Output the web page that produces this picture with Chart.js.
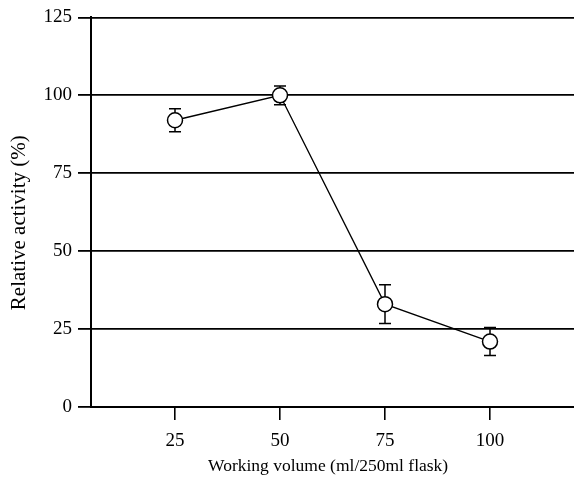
<!DOCTYPE html>
<html>
<head>
<meta charset="utf-8">
<script src="https://cdn.jsdelivr.net/npm/chart.js@4/dist/chart.umd.min.js"></script>
<style>
  html, body { margin: 0; padding: 0; background: #fff; }
  #wrap { width: 574px; height: 487px; }
</style>
</head>
<body>
<div id="wrap"><canvas id="c" width="574" height="487"></canvas></div>
<script>
// Working volume (ml per 250 ml flask) and relative activity (%)
const volumes = [25, 50, 75, 100];
const activity = [92, 100, 33, 21];
const activityErr = [3.7, 3.0, 6.2, 4.5];
const xTicks = [25, 50, 75, 100];
const yTicks = [0, 25, 50, 75, 100, 125];

const serif = "'Liberation Serif', 'DejaVu Serif', serif";

// Vertical error bars with flat caps
const errorBars = {
  id: 'errorBars',
  beforeDatasetsDraw(chart) {
    const meta = chart.getDatasetMeta(0);
    const ys = chart.scales.y;
    const ctx = chart.ctx;
    ctx.save();
    ctx.strokeStyle = '#000';
    ctx.lineWidth = 1.5;
    meta.data.forEach((pt, i) => {
      const v = activity[i], e = activityErr[i];
      const top = ys.getPixelForValue(v + e);
      const bot = ys.getPixelForValue(v - e);
      const x = pt.x;
      ctx.beginPath();
      ctx.moveTo(x, top); ctx.lineTo(x, bot);
      ctx.moveTo(x - 6, top); ctx.lineTo(x + 6, top);
      ctx.moveTo(x - 6, bot); ctx.lineTo(x + 6, bot);
      ctx.stroke();
    });
    ctx.restore();
  }
};

new Chart(document.getElementById('c'), {
  type: 'line',
  data: {
    datasets: [{
      data: volumes.map((v, i) => ({ x: v, y: activity[i] })),
      borderColor: '#000',
      borderWidth: 1.3,
      pointRadius: 7.5,
      pointHoverRadius: 7.5,
      pointBorderWidth: 1.5,
      pointBorderColor: '#000',
      pointBackgroundColor: '#fff',
      tension: 0
    }]
  },
  options: {
    responsive: false,
    animation: false,
    events: [],
    layout: { autoPadding: false, padding: { top: 17, right: 0, left: 0, bottom: 0 } },
    plugins: { legend: { display: false }, tooltip: { enabled: false } },
    scales: {
      x: {
        type: 'linear',
        min: 5,
        max: 120,
        afterBuildTicks(scale) { scale.ticks = xTicks.map(v => ({ value: v })); },
        afterFit(scale) { scale.height = 80; },
        grid: { drawOnChartArea: false, drawTicks: true, tickLength: 13, color: '#000', lineWidth: 1.6 },
        border: { display: true, color: '#000', width: 2 },
        ticks: { color: '#000', padding: 10, font: { family: serif, size: 19 }, maxRotation: 0 },
        title: {
          display: true,
          text: 'Working volume (ml/250ml flask)  ',
          color: '#000',
          font: { family: serif, size: 17.5 },
          padding: { top: 0, bottom: 10 }
        }
      },
      y: {
        min: 0,
        max: 125,
        afterBuildTicks(scale) { scale.ticks = yTicks.map(v => ({ value: v })); },
        afterFit(scale) { scale.width = 91; },
        grid: { drawTicks: true, tickLength: 13, color: '#000', lineWidth: 1.8 },
        border: { display: true, color: '#000', width: 2 },
        ticks: { color: '#000', padding: 6, font: { family: serif, size: 19 } },
        title: {
          display: true,
          text: 'Relative activity (%)    ',
          color: '#000',
          font: { family: serif, size: 21 },
          padding: { top: 7, bottom: 0 }
        }
      }
    }
  },
  plugins: [errorBars]
});
</script>
</body>
</html>
